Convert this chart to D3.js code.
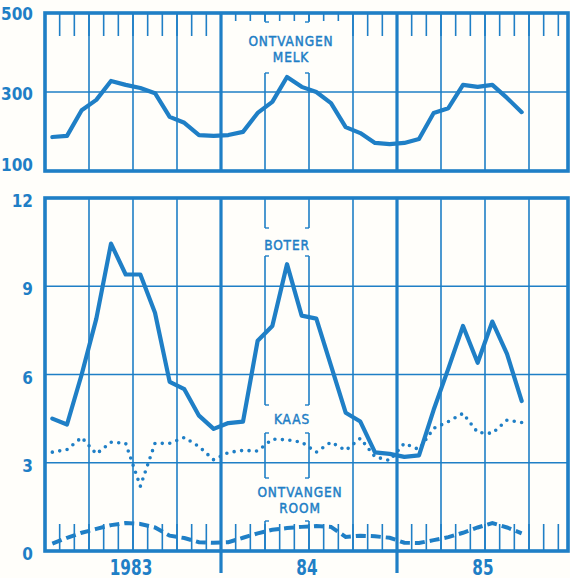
<!DOCTYPE html>
<html><head><meta charset="utf-8">
<script src="https://cdn.jsdelivr.net/npm/d3@7"></script>
<style>
html,body{margin:0;padding:0;background:#fffefa;}
svg{display:block;}
</style></head>
<body>
<script>
// ---- data ----
const months = ["1983-01","1983-02","1983-03","1983-04","1983-05","1983-06","1983-07","1983-08","1983-09","1983-10","1983-11","1983-12",
"1984-01","1984-02","1984-03","1984-04","1984-05","1984-06","1984-07","1984-08","1984-09","1984-10","1984-11","1984-12",
"1985-01","1985-02","1985-03","1985-04","1985-05","1985-06","1985-07","1985-08","1985-09"];
const melk = [186,189,254,280,328,318,310,297,237,222,191,189,
              191,199,247,275,338,313,300,272,211,196,171,168,
              171,181,247,259,318,313,318,285,249];
const boter = [4.5,4.3,6.0,7.9,10.45,9.4,9.4,8.1,5.75,5.5,4.6,4.15,
               4.35,4.4,7.15,7.65,9.75,8.0,7.9,6.3,4.7,4.4,3.35,3.3,
               3.2,3.25,4.8,6.2,7.65,6.4,7.8,6.7,5.1];
const kaas = [3.36,3.45,3.86,3.3,3.7,3.66,2.2,3.66,3.66,3.86,3.55,3.1,
              3.35,3.42,3.4,3.8,3.78,3.7,3.36,3.7,3.42,3.83,3.2,3.08,
              3.66,3.45,4.17,4.4,4.68,4.03,4.0,4.45,4.37];
const room = [0.25,0.45,0.62,0.75,0.88,0.95,0.92,0.8,0.52,0.44,0.3,0.28,
              0.3,0.45,0.6,0.72,0.78,0.82,0.85,0.82,0.48,0.52,0.5,0.45,
              0.28,0.27,0.37,0.47,0.62,0.8,0.95,0.8,0.6];
const topTicks = [100,300,500];
const bottomTicks = [0,3,6,9,12];
const yearLabels = ["1983","84","85"];
const seriesLabels = {melk:["ONTVANGEN","MELK"], boter:["BOTER"], kaas:["KAAS"], room:["ONTVANGEN","ROOM"]};

// ---- setup ----
const W = 570, H = 578;
const blue = "#1f7fc6";
const numFont = "'Liberation Sans Narrow','DejaVu Sans Condensed','Arial Narrow',sans-serif";
const svg = d3.select("body").append("svg").attr("width", W).attr("height", H);

const nMonths = 36;
const x = d3.scaleLinear().domain([0, nMonths]).range([45, 573]);
const frameLeft = 45, frameRight = 568;
const yTop = d3.scaleLinear().domain([100, 500]).range([171, 13]);
const yBot = d3.scaleLinear().domain([0, 12]).range([551, 198]);
const px = i => x(i + 0.5);

const g = svg.append("g");

function gridPanel(y, ticks, gaps, tickDir, tickLen, shortRange, shortLen) {
  const y0 = y.range()[0], y1 = y.range()[1];
  ticks.slice(1, -1).forEach(v => {
    g.append("line").attr("x1", frameLeft).attr("x2", frameRight)
      .attr("y1", y(v)).attr("y2", y(v))
      .attr("stroke", blue).attr("stroke-width", 1.6);
  });
  for (let m = 3; m < nMonths; m += 3) {
    const xx = x(m);
    if (xx >= frameRight - 2) continue;
    const thick = m % 12 === 0;
    let segs = [[y1, y0]];
    const broken = gaps && (m === 15 || m === 18);
    if (broken) {
      segs = [];
      let start = y1;
      gaps.forEach(gp => { segs.push([start, gp[0]]); start = gp[1]; });
      segs.push([start, y0]);
    }
    segs.forEach(s => {
      g.append("line").attr("x1", xx).attr("x2", xx).attr("y1", s[0]).attr("y2", s[1])
        .attr("stroke", blue).attr("stroke-width", thick ? 3.2 : 1.6);
    });
    if (broken) {
      const dir = m === 15 ? 1 : -1;
      gaps.forEach(gp => {
        [gp[0], gp[1]].forEach(yy => {
          if (yy > y1 + 2 && yy < y0 - 2) {
            g.append("line").attr("x1", xx).attr("x2", xx + dir * 4).attr("y1", yy).attr("y2", yy)
              .attr("stroke", blue).attr("stroke-width", 1.4);
          }
        });
      });
    }
  }
  for (let m = 1; m < nMonths; m++) {
    const xx = x(m);
    if (xx >= frameRight - 3) continue;
    const isShort = shortRange && m >= shortRange[0] && m <= shortRange[1];
    const len = isShort ? shortLen : tickLen;
    const base = tickDir > 0 ? y1 : y0;
    g.append("line").attr("x1", xx).attr("x2", xx)
      .attr("y1", base).attr("y2", base + tickDir * len)
      .attr("stroke", blue).attr("stroke-width", 1.6);
  }
}

gridPanel(yTop, topTicks, [[22, 73]], 1, 23, [13, 20], 8);
gridPanel(yBot, bottomTicks, [[228, 256], [405, 433], [478, 521]], -1, 27, null, 0);

[12, 24].forEach(m => {
  g.append("line").attr("x1", x(m)).attr("x2", x(m)).attr("y1", yBot(0)).attr("y2", 573)
    .attr("stroke", blue).attr("stroke-width", 3.2);
});

[yTop, yBot].forEach(y => {
  g.append("rect").attr("x", frameLeft).attr("y", y.range()[1])
    .attr("width", frameRight - frameLeft).attr("height", y.range()[0] - y.range()[1])
    .attr("fill", "none").attr("stroke", blue).attr("stroke-width", 3.6);
});

// ---- series ----
const lineTop = d3.line().x((d, i) => px(i)).y(d => yTop(d));
const lineBot = d3.line().x((d, i) => px(i)).y(d => yBot(d));

g.append("path").attr("d", lineTop(melk)).attr("fill", "none").attr("stroke", blue)
  .attr("stroke-width", 4.2).attr("stroke-linejoin", "round").attr("stroke-linecap", "round");
g.append("path").attr("d", lineBot(kaas)).attr("fill", "none").attr("stroke", blue)
  .attr("stroke-width", 3.6).attr("stroke-linecap", "round").attr("stroke-dasharray", "0,7.5");
g.append("path").attr("d", lineBot(room)).attr("fill", "none").attr("stroke", blue)
  .attr("stroke-width", 4).attr("stroke-dasharray", "10,5");
g.append("path").attr("d", lineBot(boter)).attr("fill", "none").attr("stroke", blue)
  .attr("stroke-width", 4.2).attr("stroke-linejoin", "round").attr("stroke-linecap", "round");

// ---- axis labels ----
topTicks.forEach(v => {
  g.append("text").attr("x", 33).attr("y", yTop(v) + (v === 100 ? -6 : (v === 500 ? 1 : 2)))
    .attr("text-anchor", "end").attr("dominant-baseline", "central")
    .attr("font-family", numFont).attr("font-weight", "bold").attr("font-size", 17)
    .attr("fill", blue).text(v);
});
bottomTicks.forEach(v => {
  g.append("text").attr("x", 33).attr("y", yBot(v) + 3)
    .attr("text-anchor", "end").attr("dominant-baseline", "central")
    .attr("font-family", numFont).attr("font-weight", "bold").attr("font-size", 17)
    .attr("fill", blue).text(v);
});
yearLabels.forEach((t, i) => {
  g.append("text").attr("transform", `translate(${x(i * 12 + 6) - 2},575) scale(1,1.2)`)
    .attr("text-anchor", "middle")
    .attr("font-family", numFont).attr("font-weight", "bold").attr("font-size", 17)
    .attr("fill", blue).text(t);
});

// ---- series labels ----
const labFont = "'Liberation Sans Narrow','DejaVu Sans Condensed',sans-serif";
function label(lines, cx, baselines) {
  lines.forEach((t, i) => {
    g.append("text").attr("x", cx).attr("y", baselines[i]).attr("text-anchor", "middle")
      .attr("font-family", labFont).attr("font-size", 13.5).attr("letter-spacing", 0.9)
      .attr("fill", blue).attr("stroke", blue).attr("stroke-width", 0.45)
      .text(t);
  });
}
label(seriesLabels.melk, 291, [46, 62]);
label(seriesLabels.boter, 287, [250]);
label(seriesLabels.kaas, 292, [424]);
label(seriesLabels.room, 300, [497, 513]);
</script>
</body></html>
